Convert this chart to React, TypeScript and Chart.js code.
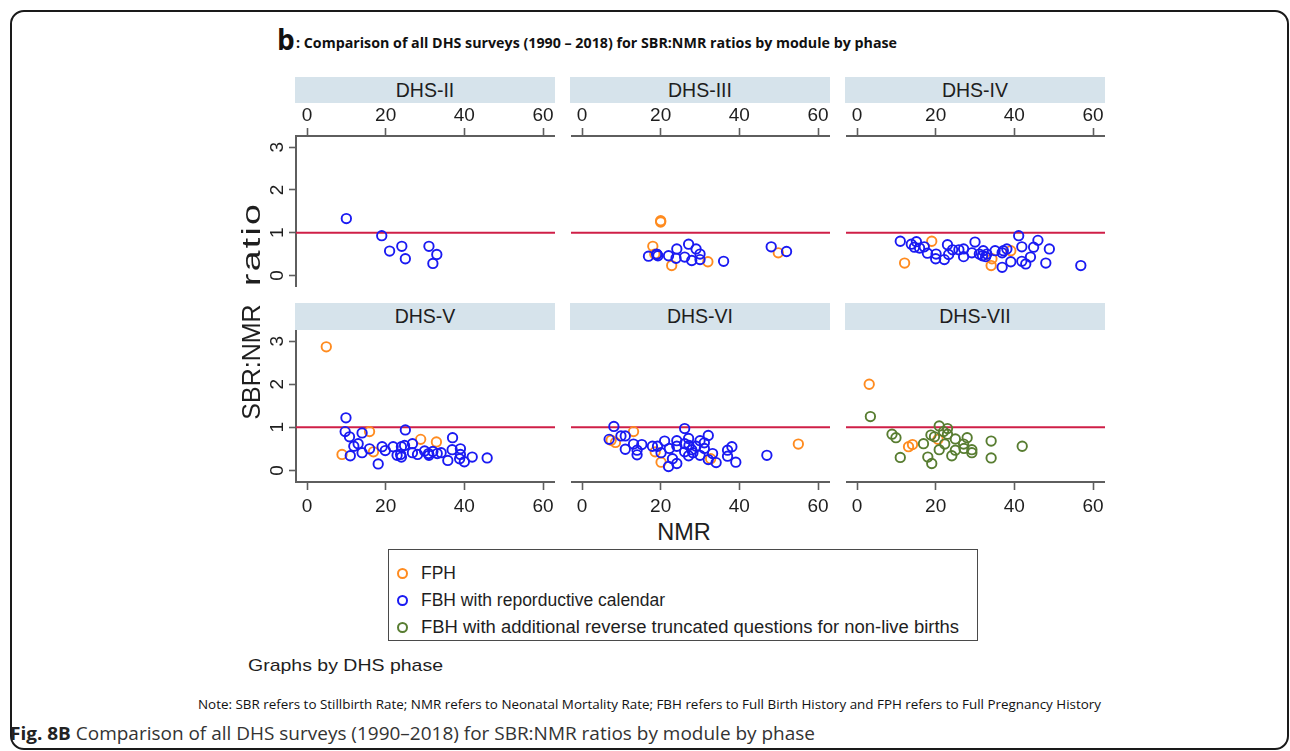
import React, { useEffect, useLayoutEffect, useRef } from 'react';
import { Chart, registerables } from 'chart.js';

Chart.register(...registerables);

type Pt = [number, number];

// ---------- data ----------
const PHASES = ['DHS-II', 'DHS-III', 'DHS-IV', 'DHS-V', 'DHS-VI', 'DHS-VII'];
const MODULES = [
  'FPH',
  'FBH with reporductive calendar',
  'FBH with additional reverse truncated questions for non-live births',
];
const X_TICKS = [0, 20, 40, 60];
const Y_TICKS = [0, 1, 2, 3];
const REF_Y = 1;

const DHS2_FPH: Pt[] = [];
const DHS2_FBH_RC: Pt[] = [[10, 1.33], [19, 0.93], [21, 0.57], [24.1, 0.68], [25, 0.39], [31, 0.68], [33, 0.49], [32, 0.28]];
const DHS2_FBH_RT: Pt[] = [];

const DHS3_FPH: Pt[] = [[20, 1.25], [20, 1.28], [18, 0.68], [18.5, 0.5], [22.8, 0.23], [32, 0.32], [49.9, 0.53]];
const DHS3_FBH_RC: Pt[] = [[16.9, 0.45], [19, 0.49], [19, 0.5], [19.3, 0.46], [22, 0.46], [24.1, 0.62], [23.9, 0.4], [26.1, 0.43], [27.1, 0.73], [29, 0.62], [30, 0.5], [27.9, 0.35], [30, 0.37], [36, 0.33], [48.1, 0.67], [52, 0.56]];
const DHS3_FBH_RT: Pt[] = [];

const DHS4_FPH: Pt[] = [[19, 0.8], [12.1, 0.29], [34.1, 0.23], [34.3, 0.39], [39.1, 0.58]];
const DHS4_FBH_RC: Pt[] = [[11, 0.8], [13.8, 0.73], [15.1, 0.79], [14.6, 0.66], [15.9, 0.64], [17.1, 0.67], [17.9, 0.52], [20.1, 0.5], [20, 0.39], [22.2, 0.37], [23, 0.72], [23.3, 0.49], [24.3, 0.6], [25.9, 0.6], [27.1, 0.62], [27.1, 0.44], [29.2, 0.53], [30, 0.78], [31.1, 0.5], [32.1, 0.58], [31.9, 0.46], [32.7, 0.44], [33, 0.5], [35.1, 0.58], [36.9, 0.53], [37.2, 0.58], [38.1, 0.62], [36.9, 0.19], [39.1, 0.32], [41.1, 0.93], [41.9, 0.67], [41.9, 0.33], [42.9, 0.27], [44.1, 0.43], [44.9, 0.66], [46, 0.82], [48.9, 0.62], [48, 0.29], [56.9, 0.23]];
const DHS4_FBH_RT: Pt[] = [];

const DHS5_FPH: Pt[] = [[4.9, 2.87], [8.9, 0.37], [15.9, 0.9], [16.9, 0.43], [28.9, 0.72], [32.9, 0.66]];
const DHS5_FBH_RC: Pt[] = [[9.9, 1.22], [9.7, 0.9], [10.8, 0.78], [11, 0.34], [11.9, 0.56], [13, 0.62], [14, 0.87], [14, 0.41], [15.9, 0.5], [18.1, 0.15], [19.1, 0.55], [19.9, 0.46], [21.9, 0.55], [22.9, 0.35], [24, 0.55], [24, 0.31], [23.8, 0.37], [25, 0.94], [24.8, 0.58], [26.8, 0.62], [26.8, 0.41], [28.1, 0.37], [29.9, 0.45], [30.9, 0.39], [31, 0.35], [32, 0.44], [33.1, 0.39], [34.1, 0.41], [35.8, 0.23], [37, 0.76], [36.9, 0.48], [39, 0.5], [39, 0.37], [38.8, 0.27], [40, 0.2], [42, 0.31], [45.8, 0.29]];
const DHS5_FBH_RT: Pt[] = [];

const DHS6_FPH: Pt[] = [[13.1, 0.9], [7.4, 0.7], [8.5, 0.65], [18.6, 0.43], [20.1, 0.19], [32.7, 0.27], [55, 0.61]];
const DHS6_FBH_RC: Pt[] = [[8.1, 1.02], [6.9, 0.72], [9.9, 0.8], [11, 0.8], [11, 0.49], [13.1, 0.61], [14, 0.47], [14, 0.36], [15.2, 0.6], [17.9, 0.56], [19.2, 0.56], [20.1, 0.41], [21, 0.68], [22.2, 0.51], [23, 0.27], [22, 0.09], [24.1, 0.16], [24.1, 0.69], [24.1, 0.56], [26.1, 0.97], [26.1, 0.62], [26.1, 0.43], [27.1, 0.74], [27.2, 0.58], [27.1, 0.34], [28.2, 0.41], [27.9, 0.48], [29, 0.56], [30, 0.69], [30, 0.35], [31.1, 0.64], [31.1, 0.51], [32.1, 0.81], [32.1, 0.25], [33.2, 0.39], [34.1, 0.18], [37, 0.47], [37, 0.33], [38.1, 0.55], [39.1, 0.19], [47, 0.35]];
const DHS6_FBH_RT: Pt[] = [];

const DHS7_FPH: Pt[] = [[3.1, 2.0], [13.1, 0.55], [14.1, 0.6], [20.6, 0.72]];
const DHS7_FBH_RC: Pt[] = [];
const DHS7_FBH_RT: Pt[] = [[3.4, 1.25], [8.9, 0.84], [9.9, 0.76], [11, 0.3], [16.9, 0.62], [18, 0.31], [19, 0.16], [18.8, 0.82], [19.7, 0.78], [20.9, 1.03], [20.9, 0.48], [22, 0.9], [22.3, 0.61], [23, 0.97], [23, 0.84], [24.1, 0.34], [25, 0.73], [25, 0.47], [27.1, 0.61], [27.2, 0.51], [28, 0.76], [29.2, 0.48], [29.2, 0.41], [34.1, 0.68], [34.1, 0.29], [42, 0.56]];

const PANEL_DATA: Pt[][][] = [
  [DHS2_FPH, DHS2_FBH_RC, DHS2_FBH_RT],
  [DHS3_FPH, DHS3_FBH_RC, DHS3_FBH_RT],
  [DHS4_FPH, DHS4_FBH_RC, DHS4_FBH_RT],
  [DHS5_FPH, DHS5_FBH_RC, DHS5_FBH_RT],
  [DHS6_FPH, DHS6_FBH_RC, DHS6_FBH_RT],
  [DHS7_FPH, DHS7_FBH_RC, DHS7_FBH_RT],
];

// ---------- style / layout ----------
const X_MIN = -2.8;
const X_MAX = 63.05;
const Y_MIN = -0.27;
const Y_MAX = 3.26;
const COLORS = ['#ff8b1f', '#1a1af2', '#587d31'];
const RED = '#cf1f47';
const AXIS = '#5e5e5e';
const TXT = '#1e1e1e';
const FONT = '"Liberation Sans", Arial, sans-serif';
const OPEN = '"Open Sans", sans-serif';

const AREA_LEFT = [296, 571, 846];
const AREA_W = 259;
const AREA_TOP = [136, 330];
const AREA_H = [151, 152];
const X_AXIS_H = 34;
const Y_AXIS_W = 46;
const STRIP_TOP = [77, 303];
const STRIP_H = [26, 27];

const zeroPad = (s: any) => {
  s.paddingTop = 0;
  s.paddingBottom = 0;
  s.paddingLeft = 0;
  s.paddingRight = 0;
};

function Panel({ idx }: { idx: number }) {
  const ref = useRef<HTMLCanvasElement>(null);
  const row = Math.floor(idx / 3);
  const col = idx % 3;
  const showY = col === 0;
  const left = showY ? AREA_LEFT[col] - Y_AXIS_W : AREA_LEFT[col];
  const width = AREA_W + (showY ? Y_AXIS_W : 0);
  const top = row === 0 ? AREA_TOP[0] - X_AXIS_H : AREA_TOP[1];
  const height = AREA_H[row] + X_AXIS_H;

  useEffect(() => {
    const series = PANEL_DATA[idx];
    const datasets: any[] = [
      {
        type: 'line',
        label: 'ref',
        data: [{ x: X_MIN, y: REF_Y }, { x: X_MAX, y: REF_Y }],
        borderColor: RED,
        borderWidth: 2,
        pointRadius: 0,
        order: 10,
      },
    ];
    series.forEach((pts, k) => {
      datasets.push({
        type: 'scatter',
        label: MODULES[k],
        data: pts.map(([x, y]) => ({ x, y })),
        pointStyle: 'circle',
        pointRadius: 4.7,
        pointBorderWidth: 1.9,
        pointBorderColor: COLORS[k],
        pointBackgroundColor: 'rgba(0,0,0,0)',
        borderColor: COLORS[k],
        backgroundColor: 'rgba(0,0,0,0)',
        order: 5 - k,
      });
    });
    const chart = new Chart(ref.current as HTMLCanvasElement, {
      type: 'scatter',
      data: { datasets },
      options: {
        animation: false,
        responsive: false,
        events: [],
        layout: { padding: 0, autoPadding: false },
        plugins: { legend: { display: false }, tooltip: { enabled: false } },
        scales: {
          x: {
            type: 'linear',
            position: row === 0 ? 'top' : 'bottom',
            min: X_MIN,
            max: X_MAX,
            afterBuildTicks: (s: any) => {
              s.ticks = X_TICKS.map((v) => ({ value: v }));
            },
            afterFit: (s: any) => {
              s.height = X_AXIS_H;
              zeroPad(s);
            },
            grid: {
              display: true,
              drawOnChartArea: false,
              drawTicks: true,
              tickLength: 8,
              tickWidth: 1.6,
              tickColor: AXIS,
            },
            border: { display: true, color: AXIS, width: 2 },
            ticks: {
              font: { family: FONT, size: 19 },
              color: TXT,
              padding: row === 0 ? 1 : 5.5,
              minRotation: 0,
              maxRotation: 0,
              autoSkip: false,
            },
          },
          y: {
            type: 'linear',
            display: showY,
            position: 'left',
            min: Y_MIN,
            max: Y_MAX,
            afterBuildTicks: (s: any) => {
              s.ticks = Y_TICKS.map((v) => ({ value: v }));
            },
            afterFit: (s: any) => {
              s.width = showY ? Y_AXIS_W : 0;
              zeroPad(s);
            },
            grid: {
              display: true,
              drawOnChartArea: false,
              drawTicks: true,
              tickLength: 7,
              tickWidth: 1.6,
              tickColor: AXIS,
            },
            border: { display: true, color: AXIS, width: 2 },
            ticks: {
              font: { family: FONT, size: 19 },
              color: TXT,
              padding: 5.5,
              minRotation: 90,
              maxRotation: 90,
              crossAlign: 'center',
              autoSkip: false,
            },
          },
        },
      },
    } as any);
    return () => chart.destroy();
  }, [idx]);

  return (
    <canvas
      ref={ref}
      width={width}
      height={height}
      style={{ position: 'absolute', left, top, width, height }}
    />
  );
}

function Strip({ idx }: { idx: number }) {
  const row = Math.floor(idx / 3);
  const col = idx % 3;
  return (
    <div
      style={{
        position: 'absolute',
        left: AREA_LEFT[col] - 1,
        top: STRIP_TOP[row],
        width: AREA_W + 1,
        height: STRIP_H[row],
        background: '#d6e3eb',
        display: 'flex',
        alignItems: 'center',
        justifyContent: 'center',
        fontFamily: FONT,
        fontSize: 19.5,
        color: TXT,
      }}
    >
      {PHASES[idx]}
    </div>
  );
}

function Fit({ left, top, width, style, children }: any) {
  const ref = useRef<HTMLDivElement>(null);
  useLayoutEffect(() => {
    const el = ref.current;
    if (!el) return;
    el.style.transform = 'none';
    const w = el.getBoundingClientRect().width;
    if (w > 0) el.style.transform = `scaleX(${width / w})`;
  }, [width]);
  return (
    <div
      ref={ref}
      style={{
        position: 'absolute',
        left,
        top,
        whiteSpace: 'nowrap',
        lineHeight: 1,
        transformOrigin: '0 0',
        ...style,
      }}
    >
      {children}
    </div>
  );
}

function Legend() {
  const rowsY = [573, 600, 627];
  return (
    <>
      <div
        style={{
          position: 'absolute',
          left: 388,
          top: 549,
          width: 590,
          height: 92,
          border: '1.5px solid #4a4a4a',
          boxSizing: 'border-box',
        }}
      />
      {MODULES.map((m, i) => (
        <React.Fragment key={m}>
          <div
            style={{
              position: 'absolute',
              left: 402 - 5.5,
              top: rowsY[i] - 5.5,
              width: 11,
              height: 11,
              borderRadius: '50%',
              border: `2px solid ${COLORS[i]}`,
              boxSizing: 'border-box',
            }}
          />
          {i === 2 ? (
            <Fit left={421} top={rowsY[i] - 8.5} width={538} style={{ fontFamily: FONT, fontSize: 17.5, color: TXT }}>
              {m}
            </Fit>
          ) : (
            <div
              style={{
                position: 'absolute',
                left: 421,
                top: rowsY[i] - 8.5,
                lineHeight: 1,
                whiteSpace: 'nowrap',
                fontFamily: FONT,
                fontSize: 17.5,
                color: TXT,
              }}
            >
              {m}
            </div>
          )}
        </React.Fragment>
      ))}
    </>
  );
}

const rotText = (cx: number, cy: number, sx: number, extra?: React.CSSProperties): React.CSSProperties => ({
  position: 'absolute',
  left: cx,
  top: cy,
  transform: `translate(-50%, -50%) rotate(-90deg) scaleX(${sx})`,
  fontFamily: FONT,
  fontSize: 25,
  lineHeight: 1,
  whiteSpace: 'nowrap',
  color: TXT,
  ...extra,
});

export default function App() {
  return (
    <div
      style={{
        position: 'fixed',
        left: 0,
        top: 0,
        width: 1290,
        height: 751,
        background: '#ffffff',
        overflow: 'hidden',
      }}
    >
      {/* outer rounded frame */}
      <div
        style={{
          position: 'absolute',
          left: 10,
          top: 10,
          width: 1279,
          height: 740,
          border: '2px solid #1a1a1a',
          borderRadius: 14,
          boxSizing: 'border-box',
        }}
      />
      {/* title */}
      <div
        style={{
          position: 'absolute',
          left: 277,
          top: 25,
          fontFamily: OPEN,
          fontWeight: 700,
          fontSize: 28,
          lineHeight: 1,
          color: '#111',
        }}
      >
        b
      </div>
      <Fit left={296} top={35.6} width={601} style={{ fontFamily: OPEN, fontWeight: 700, fontSize: 14, color: '#111' }}>
        : Comparison of all DHS surveys (1990 – 2018) for SBR:NMR ratios by module by phase
      </Fit>

      {PHASES.map((_, i) => (
        <Strip key={'s' + i} idx={i} />
      ))}
      {PHASES.map((_, i) => (
        <Panel key={'p' + i} idx={i} />
      ))}

      {/* y axis title */}
      <div style={rotText(251, 361.5, 1)}>SBR:NMR</div>
      <div style={rotText(251, 244, 1.5, { letterSpacing: 1.5 })}>ratio</div>

      {/* x axis title */}
      <div
        style={{
          position: 'absolute',
          left: 684,
          top: 533,
          transform: 'translate(-50%, -50%)',
          fontFamily: FONT,
          fontSize: 23.5,
          lineHeight: 1,
          color: TXT,
        }}
      >
        NMR
      </div>

      <Legend />

      <Fit left={248} top={656.7} width={195} style={{ fontFamily: FONT, fontSize: 17, color: TXT }}>
        Graphs by DHS phase
      </Fit>

      <Fit left={198} top={699.4} width={903} style={{ fontFamily: OPEN, fontSize: 12.5, color: '#111' }}>
        Note: SBR refers to Stillbirth Rate; NMR refers to Neonatal Mortality Rate; FBH refers to Full Birth History and FPH refers to Full Pregnancy History
      </Fit>

      <Fit left={10} top={724} width={805} style={{ fontFamily: OPEN, fontSize: 18, color: '#333' }}>
        <span style={{ fontWeight: 700, color: '#222' }}>Fig. 8B</span> Comparison of all DHS surveys (1990–2018) for SBR:NMR ratios by module by phase
      </Fit>
    </div>
  );
}
